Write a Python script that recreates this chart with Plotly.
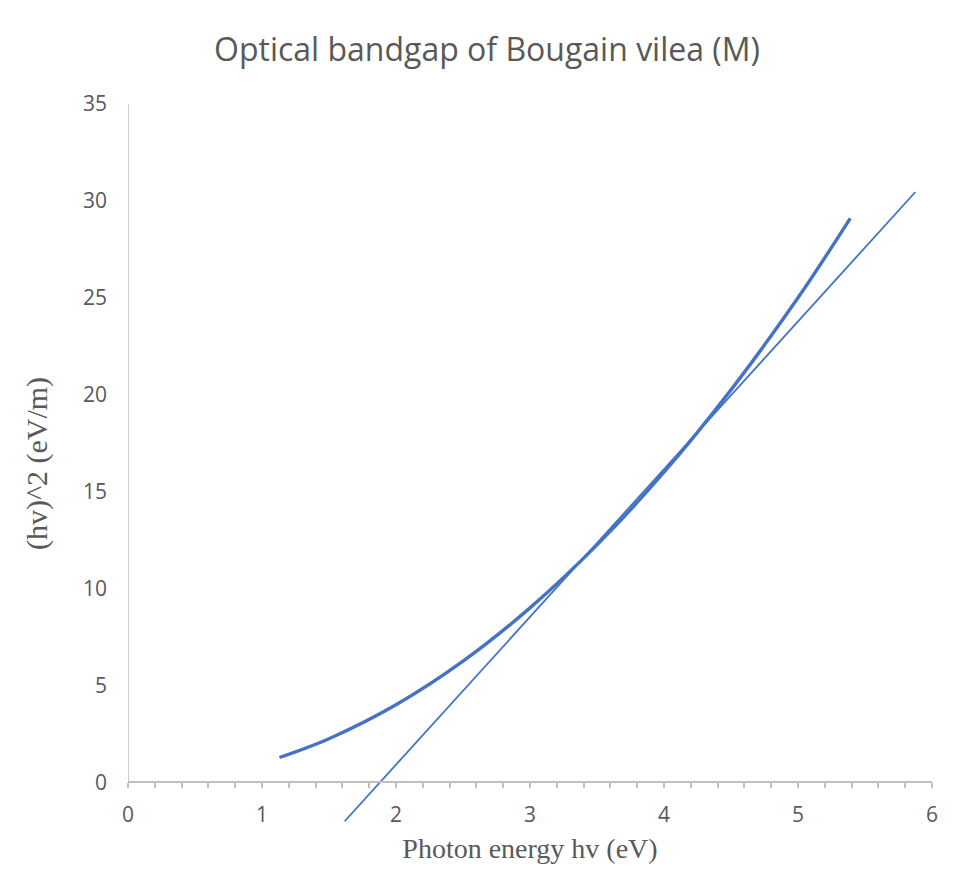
import plotly.graph_objects as go

# Data
hv = [1.13, 1.5, 2.0, 2.5, 3.0, 3.5, 4.0, 4.5, 5.0, 5.39]
ahv2 = [1.28, 2.25, 4.0, 6.25, 9.0, 12.25, 16.0, 20.25, 25.0, 29.1]

tangent_x = [1.617, 5.876]
tangent_y = [-2.01, 30.46]

x_ticks = [0, 1, 2, 3, 4, 5, 6]
y_ticks = [0, 5, 10, 15, 20, 25, 30, 35]

BLUE = "#4472C4"
GRAY_TXT = "#595959"
AXIS_GRAY = "#BFBFBF"

YMIN = -2.1
YMAX = 35

fig = go.Figure()
fig.add_trace(go.Scatter(x=hv, y=ahv2, mode="lines",
                         line=dict(color=BLUE, width=3.4, shape="spline"),
                         showlegend=False, hoverinfo="skip"))
fig.add_trace(go.Scatter(x=tangent_x, y=tangent_y, mode="lines",
                         line=dict(color=BLUE, width=1.8),
                         showlegend=False, hoverinfo="skip"))

fig.add_shape(type="line", xref="x", yref="y", x0=0, x1=0, y0=0, y1=YMAX,
              line=dict(color=AXIS_GRAY, width=1.5), layer="below")

fig.update_layout(
    width=957, height=896,
    paper_bgcolor="white", plot_bgcolor="white",
    margin=dict(l=120.3, r=32.7, t=96, b=81.3),
    title=dict(text="Optical bandgap of Bougain vilea (M)",
               x=479/957, xref="container", xanchor="center",
               y=1-42/896, yref="container", yanchor="middle",
               font=dict(family="Open Sans, Noto Sans, sans-serif", size=32, color=GRAY_TXT)),
    xaxis=dict(range=[0, 6], tickvals=x_ticks, showgrid=False, zeroline=False,
               showline=True, linecolor=AXIS_GRAY, linewidth=1.5,
               ticks="outside", ticklen=5, tickcolor=AXIS_GRAY, tickwidth=1.5,
               minor=dict(dtick=0.2, ticks="outside", ticklen=5, tickcolor=AXIS_GRAY, tickwidth=1.5),
               anchor="free", position=(0 - YMIN) / (YMAX - YMIN),
               ticklabelstandoff=9,
               tickfont=dict(family="Open Sans, Noto Sans, sans-serif", size=21, color=GRAY_TXT),
               title=dict(text="Photon energy hv (eV)", standoff=10,
                          font=dict(family="Liberation Serif, serif", size=28, color=GRAY_TXT))),
    yaxis=dict(range=[YMIN, YMAX], tickvals=y_ticks, showgrid=False, zeroline=False,
               showline=False, ticks="", ticklabelstandoff=20,
               tickfont=dict(family="Open Sans, Noto Sans, sans-serif", size=21, color=GRAY_TXT),
               title=dict(text="(hv)^2 (eV/m)", standoff=26,
                          font=dict(family="Liberation Serif, serif", size=30, color=GRAY_TXT))),
)

fig.write_html("out.html")
